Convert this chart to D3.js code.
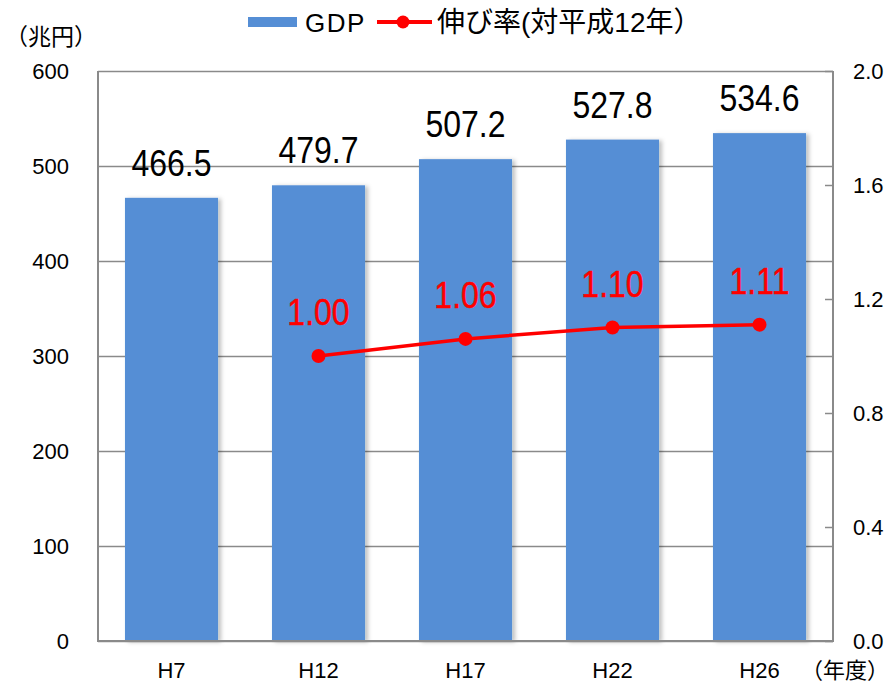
<!DOCTYPE html>
<html>
<head>
<meta charset="utf-8">
<script src="https://cdn.jsdelivr.net/npm/d3@7"></script>
<style>
  body { margin: 0; background: #fff; }
  svg text { font-family: "Liberation Sans", Arial, "Noto Sans CJK JP", sans-serif; }
</style>
</head>
<body>
<div id="chart"></div>
<script>
const years = ["H7", "H12", "H17", "H22", "H26"];
const gdp = [466.5, 479.7, 507.2, 527.8, 534.6];
const growth = [null, 1.0, 1.06, 1.1, 1.11];
const leftTicks = [0, 100, 200, 300, 400, 500, 600];
const rightTicks = [0, 0.4, 0.8, 1.2, 1.6, 2.0];

const margin = { top: 71, right: 56, bottom: 43, left: 98 },
  width = 889 - margin.left - margin.right,
  height = 684 - margin.top - margin.bottom;

const root = d3
  .select("#chart")
  .append("svg")
  .attr("width", 889)
  .attr("height", 684);

// soft shadow to the right of the bars
const defs = root.append("defs");
const f = defs.append("filter").attr("id", "shadow").attr("x", "-10%").attr("width", "130%");
f.append("feDropShadow")
  .attr("dx", 3)
  .attr("dy", 1)
  .attr("stdDeviation", 2)
  .attr("flood-color", "#000")
  .attr("flood-opacity", 0.25);

const svg = root
  .append("g")
  .attr("transform", `translate(${margin.left}, ${margin.top})`);

const x = d3.scaleBand().domain(years).range([0, width]).paddingInner(0.367).paddingOuter(0.1835);
const yL = d3.scaleLinear().domain([0, 600]).range([height, 0]);
const yR = d3.scaleLinear().domain([0, 2.0]).range([height, 0]);

// gridlines
svg
  .append("g")
  .call(d3.axisLeft(yL).tickValues(leftTicks).tickSize(-width).tickFormat(""))
  .call((g) => g.select(".domain").remove())
  .selectAll("line")
  .attr("stroke", "#8a8a8a")
  .attr("stroke-width", 1.5);

// left labels
svg
  .append("g")
  .call(d3.axisLeft(yL).tickValues(leftTicks).tickSize(0).tickPadding(29))
  .call((g) => g.select(".domain").remove())
  .selectAll("text")
  .style("font-size", "22px")
  .attr("fill", "#000");

// right axis with inner ticks
const ra = svg
  .append("g")
  .attr("transform", `translate(${width}, 0)`)
  .call(d3.axisRight(yR).tickValues(rightTicks).tickSize(-8).tickPadding(20).tickFormat(d3.format(".1f")));
ra.select(".domain").remove();
ra.selectAll("line").attr("stroke", "#8a8a8a").attr("stroke-width", 1.5);
ra.selectAll("text").style("font-size", "22px").attr("fill", "#000");

// bottom labels
svg
  .append("g")
  .attr("transform", `translate(0, ${height})`)
  .call(d3.axisBottom(x).tickSize(0).tickPadding(21))
  .call((g) => g.select(".domain").remove())
  .selectAll("text")
  .style("font-size", "22px")
  .attr("fill", "#000");

// bars
svg
  .selectAll(".bar")
  .data(gdp)
  .join("rect")
  .attr("class", "bar")
  .attr("x", (d, i) => x(years[i]))
  .attr("y", (d) => yL(d))
  .attr("width", x.bandwidth())
  .attr("height", (d) => height - yL(d))
  .attr("fill", "#558ed5")
  .attr("filter", "url(#shadow)");

// frame
svg
  .append("path")
  .attr("d", `M0,0V${height}H${width}V0`)
  .attr("fill", "none")
  .attr("stroke", "#8a8a8a")
  .attr("stroke-width", 2);

// bar value labels (glyphs a bit taller than Liberation's)
svg
  .selectAll(".val")
  .data(gdp)
  .join("text")
  .attr("class", "val")
  .attr("transform", (d, i) => `translate(${x(years[i]) + x.bandwidth() / 2}, ${yL(d) - 22}) scale(1, 1.13)`)
  .attr("text-anchor", "middle")
  .style("font-size", "32px")
  .text((d) => d.toFixed(1));

// growth line
const pts = growth
  .map((v, i) => ({ year: years[i], v: v }))
  .filter((d) => d.v !== null);
const cx = (d) => x(d.year) + x.bandwidth() / 2;

svg
  .append("path")
  .datum(pts)
  .attr("fill", "none")
  .attr("stroke", "#ff0000")
  .attr("stroke-width", 3.5)
  .attr("d", d3.line().x(cx).y((d) => yR(d.v)));

svg
  .selectAll(".dot")
  .data(pts)
  .join("circle")
  .attr("class", "dot")
  .attr("cx", cx)
  .attr("cy", (d) => yR(d.v))
  .attr("r", 7)
  .attr("fill", "#ff0000");

svg
  .selectAll(".rate")
  .data(pts)
  .join("text")
  .attr("class", "rate")
  .attr("transform", (d) => `translate(${cx(d)}, ${yR(d.v) - 31}) scale(1, 1.15)`)
  .attr("text-anchor", "middle")
  .attr("fill", "#ff0000")
  .attr("stroke", "#ff0000")
  .attr("stroke-width", 0.4)
  .style("font-size", "32px")
  .text((d) => d.v.toFixed(2));

// unit labels
root
  .append("text")
  .attr("x", 5)
  .attr("y", 45)
  .style("font-size", "23px")
  .text("（兆円）");

root
  .append("text")
  .attr("x", 889)
  .attr("y", 678)
  .attr("text-anchor", "end")
  .style("font-size", "22px")
  .text("（年度）");

// legend
const lg = root.append("g");
lg.append("rect").attr("x", 248).attr("y", 17).attr("width", 49).attr("height", 10).attr("fill", "#558ed5");
lg.append("text").attr("x", 305).attr("y", 32).style("font-size", "26px").style("letter-spacing", "1.5px").text("GDP");
lg.append("line")
  .attr("x1", 377)
  .attr("x2", 432)
  .attr("y1", 22)
  .attr("y2", 22)
  .attr("stroke", "#ff0000")
  .attr("stroke-width", 4);
lg.append("circle").attr("cx", 403).attr("cy", 22).attr("r", 6.5).attr("fill", "#ff0000");
lg.append("text").attr("x", 437).attr("y", 32).style("font-size", "28px").text("伸び率(対平成12年）");
</script>
</body>
</html>
